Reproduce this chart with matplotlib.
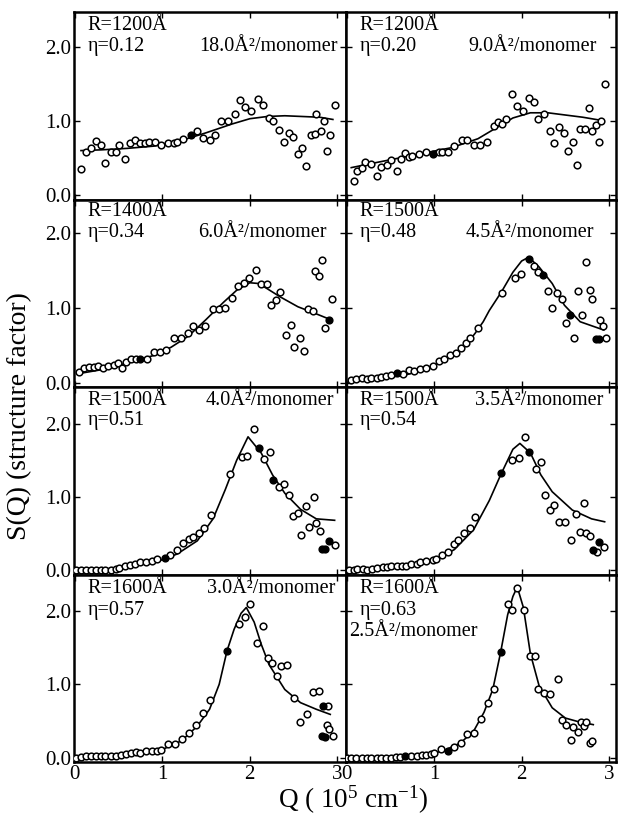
import matplotlib
matplotlib.use("Agg")
import matplotlib.pyplot as plt

plt.rcParams['font.family'] = ['Liberation Serif', 'DejaVu Serif']
plt.rcParams['mathtext.fontset'] = 'custom'
plt.rcParams['mathtext.rm'] = 'Liberation Serif'
plt.rcParams['mathtext.it'] = 'Liberation Serif:italic'

# ---------------- data ----------------
# Panel A : R=1200, eta=0.12
a_x = [0.07,0.13,0.19,0.24,0.30,0.35,0.41,0.47,0.51,0.57,0.63,0.69,0.74,0.80,0.85,0.92,0.99,1.06,1.13,1.17,
       1.24,1.40,1.47,1.54,1.60,1.67,1.75,1.83,1.89,1.95,2.01,2.09,2.15,2.22,2.26,2.33,2.39,2.45,2.49,2.55,
       2.60,2.64,2.70,2.74,2.76,2.81,2.85,2.88,2.92,2.97]
a_y = [0.35,0.58,0.64,0.73,0.68,0.43,0.58,0.58,0.67,0.48,0.70,0.74,0.70,0.70,0.71,0.71,0.67,0.70,0.70,0.71,
       0.75,0.87,0.77,0.74,0.81,1.00,1.00,1.10,1.28,1.19,1.14,1.30,1.22,1.04,1.00,0.88,0.72,0.84,0.79,0.56,
       0.63,0.39,0.81,0.82,1.09,0.86,1.00,0.60,0.81,1.21]
a_fx = [1.33]
a_fy = [0.81]
a_cx = [0.07,0.3,0.6,0.9,1.2,1.5,1.8,2.0,2.2,2.4,2.6,2.8,2.95]
a_cy = [0.60,0.61,0.63,0.66,0.73,0.84,0.96,1.03,1.06,1.07,1.06,1.05,1.02]

# Panel B : R=1200, eta=0.20
b_x = [0.08,0.12,0.17,0.21,0.28,0.35,0.39,0.46,0.51,0.57,0.62,0.66,0.71,0.75,0.82,0.90,1.05,1.09,1.16,1.23,
       1.32,1.38,1.45,1.52,1.60,1.68,1.73,1.77,1.82,1.89,1.95,2.01,2.08,2.14,2.19,2.26,2.32,2.37,2.43,2.49,
       2.53,2.59,2.63,2.67,2.73,2.77,2.80,2.85,2.88,2.91,2.95]
b_y = [0.19,0.32,0.37,0.44,0.42,0.26,0.38,0.40,0.47,0.33,0.49,0.57,0.52,0.53,0.55,0.58,0.58,0.58,0.58,0.66,
       0.74,0.74,0.67,0.67,0.71,0.93,0.98,0.96,1.03,1.36,1.20,1.13,1.31,1.26,1.02,1.09,0.87,0.70,0.92,0.84,
       0.60,0.71,0.41,0.89,0.89,1.17,0.86,0.95,0.72,1.00,1.50]
b_fx = [0.98]
b_fy = [0.56]
b_cx = [0.05,0.3,0.6,0.9,1.2,1.5,1.7,1.9,2.1,2.3,2.5,2.7,2.9]
b_cy = [0.37,0.43,0.50,0.57,0.64,0.76,0.90,1.04,1.11,1.11,1.08,1.05,1.01]

# Panel C : R=1400, eta=0.34
c_x = [0.05,0.10,0.16,0.22,0.26,0.32,0.38,0.45,0.49,0.54,0.58,0.64,0.70,0.82,0.90,0.97,1.04,1.13,1.21,1.29,
       1.35,1.42,1.49,1.58,1.65,1.72,1.80,1.87,1.93,1.99,2.07,2.13,2.20,2.24,2.30,2.35,2.41,2.47,2.51,2.57,
       2.62,2.67,2.72,2.75,2.79,2.83,2.86,2.94]
c_y = [0.15,0.21,0.22,0.22,0.23,0.21,0.23,0.25,0.27,0.21,0.29,0.33,0.32,0.33,0.42,0.42,0.45,0.60,0.60,0.67,
       0.76,0.71,0.77,0.99,0.99,1.00,1.14,1.30,1.34,1.40,1.51,1.32,1.32,1.04,1.11,1.22,0.65,0.78,0.49,0.60,
       0.43,0.99,0.96,1.50,1.43,1.65,0.74,1.13]
c_fx = [0.75,2.90]
c_fy = [0.33,0.85]
c_cx = [0.05,0.3,0.6,0.9,1.1,1.3,1.5,1.7,1.85,2.0,2.1,2.2,2.35,2.55,2.75,2.92]
c_cy = [0.13,0.18,0.27,0.37,0.48,0.63,0.85,1.08,1.24,1.34,1.33,1.26,1.15,1.02,0.93,0.85]

# Panel D : R=1500, eta=0.48
d_x = [0.05,0.11,0.17,0.23,0.28,0.34,0.39,0.45,0.50,0.64,0.71,0.77,0.84,0.91,0.98,1.05,1.11,1.18,1.25,1.31,
       1.36,1.41,1.50,1.78,1.92,1.99,2.14,2.19,2.30,2.35,2.41,2.46,2.51,2.60,2.64,2.69,2.74,2.78,2.81,2.90,
       2.93,2.96]
d_y = [0.05,0.06,0.07,0.06,0.07,0.07,0.08,0.10,0.11,0.13,0.18,0.16,0.19,0.21,0.23,0.30,0.32,0.38,0.41,0.47,
       0.54,0.60,0.74,1.20,1.40,1.46,1.57,1.48,1.23,1.00,1.20,1.12,0.80,0.60,1.23,0.91,1.62,1.24,1.13,0.85,
       0.76,0.60]
d_fx = [0.57,2.08,2.25,2.55,2.85,2.88]
d_fy = [0.14,1.66,1.44,0.91,0.59,0.59]
d_cx = [0.05,0.4,0.7,1.0,1.2,1.35,1.47,1.56,1.63,1.77,1.9,2.0,2.08,2.2,2.35,2.49,2.67,2.94]
d_cy = [0.03,0.06,0.12,0.24,0.36,0.49,0.67,0.82,0.97,1.22,1.48,1.63,1.68,1.55,1.33,1.04,0.82,0.71]

# Panel E : R=1500, eta=0.51
e_x = [0.01,0.07,0.13,0.19,0.24,0.30,0.35,0.41,0.47,0.51,0.57,0.63,0.69,0.74,0.81,0.88,0.94,1.09,1.17,1.24,
       1.31,1.35,1.42,1.48,1.56,1.77,1.91,1.97,2.05,2.16,2.23,2.33,2.39,2.45,2.49,2.55,2.59,2.64,2.68,2.73,
       2.76,2.80,2.97]
e_y = [0.0,0.0,0.0,0.0,0.0,0.0,0.0,0.0,0.01,0.03,0.06,0.07,0.08,0.11,0.11,0.13,0.15,0.21,0.27,0.37,
       0.43,0.45,0.50,0.57,0.75,1.31,1.55,1.56,1.93,1.52,1.61,1.14,1.17,1.02,0.74,0.78,0.48,0.87,0.59,1.00,
       0.64,0.54,0.34]
e_fx = [1.03,2.10,2.27,2.83,2.86,2.91]
e_fy = [0.16,1.67,1.23,0.29,0.29,0.40]
e_cx = [0.01,0.3,0.6,0.95,1.17,1.4,1.58,1.72,1.85,1.98,2.13,2.26,2.4,2.58,2.76,2.97]
e_cy = [0.0,0.01,0.04,0.12,0.22,0.40,0.70,1.10,1.50,1.82,1.60,1.30,1.05,0.83,0.70,0.68]

# Panel F : R=1500, eta=0.54
f_x = [0.02,0.08,0.12,0.18,0.23,0.29,0.35,0.41,0.46,0.51,0.57,0.63,0.68,0.73,0.80,0.84,0.91,0.98,1.02,1.09,
       1.16,1.23,1.27,1.34,1.41,1.47,1.89,1.97,2.04,2.16,2.22,2.27,2.32,2.37,2.43,2.50,2.56,2.62,2.67,2.71,
       2.74,2.78,2.86,2.94]
f_y = [0.0,0.0,0.01,0.01,0.0,0.01,0.03,0.04,0.04,0.05,0.06,0.06,0.06,0.08,0.09,0.11,0.12,0.14,0.15,0.20,
       0.25,0.36,0.41,0.50,0.57,0.73,1.50,1.53,1.82,1.38,1.48,1.03,0.82,0.89,0.65,0.66,0.41,0.77,0.52,0.92,
       0.51,0.46,0.25,0.31]
f_fx = [1.76,2.09,2.82,2.89]
f_fy = [1.32,1.61,0.27,0.38]
f_cx = [0.02,0.4,0.7,1.0,1.23,1.45,1.63,1.76,1.9,1.98,2.1,2.22,2.35,2.58,2.8,2.95]
f_cy = [0.0,0.03,0.06,0.13,0.28,0.55,0.95,1.30,1.65,1.73,1.60,1.30,1.07,0.82,0.70,0.66]

# Panel G : R=1600, eta=0.57
g_x = [0.01,0.07,0.13,0.19,0.24,0.30,0.35,0.41,0.47,0.53,0.58,0.64,0.70,0.75,0.81,0.88,0.94,0.99,1.07,1.15,
       1.23,1.31,1.39,1.47,1.54,1.88,1.95,2.00,2.08,2.15,2.21,2.25,2.31,2.36,2.42,2.50,2.57,2.65,2.72,2.79,
       2.88,2.91,2.95,2.89]
g_y = [0.0,0.01,0.02,0.02,0.02,0.02,0.02,0.02,0.02,0.03,0.05,0.06,0.08,0.06,0.09,0.09,0.09,0.10,0.18,0.18,
       0.26,0.34,0.45,0.61,0.79,1.83,1.92,2.10,1.57,1.80,1.36,1.29,1.11,1.25,1.27,0.82,0.49,0.59,0.90,0.91,
       0.44,0.39,0.30,0.70]
g_fx = [1.74,2.84,2.82,2.86]
g_fy = [1.46,0.71,0.30,0.28]
g_cx = [0.01,0.4,0.7,1.0,1.22,1.4,1.54,1.65,1.74,1.82,1.9,1.96,2.05,2.13,2.22,2.4,2.58,2.76,2.92]
g_cy = [0.0,0.02,0.05,0.11,0.23,0.43,0.66,1.0,1.46,1.75,1.97,2.05,1.85,1.55,1.27,0.93,0.75,0.66,0.59]

# Panel H : R=1600, eta=0.63
h_x = [0.0,0.05,0.11,0.17,0.23,0.28,0.34,0.39,0.45,0.50,0.56,0.61,0.73,0.80,0.86,0.91,0.96,1.00,1.08,1.23,
       1.31,1.38,1.45,1.53,1.61,1.68,1.84,1.89,1.95,2.03,2.10,2.15,2.19,2.26,2.33,2.42,2.46,2.51,2.56,2.59,
       2.64,2.68,2.71,2.74,2.78,2.81]
h_y = [0.0,0.0,0.0,0.0,0.0,0.0,0.0,0.0,0.0,0.0,0.01,0.01,0.02,0.02,0.03,0.04,0.05,0.06,0.12,0.14,
       0.20,0.32,0.34,0.53,0.74,0.93,2.10,2.02,2.32,2.02,1.39,1.39,0.93,0.88,0.87,1.07,0.52,0.45,0.24,0.42,
       0.35,0.49,0.43,0.49,0.20,0.23]
h_fx = [0.67,1.16,1.76]
h_fy = [0.02,0.09,1.44]
h_cx = [0.0,0.5,0.9,1.1,1.3,1.45,1.57,1.67,1.76,1.84,1.9,1.95,2.02,2.1,2.2,2.35,2.5,2.65,2.82]
h_cy = [0.0,0.01,0.04,0.09,0.2,0.36,0.62,0.93,1.44,1.95,2.2,2.33,2.05,1.42,0.98,0.68,0.54,0.49,0.45]

radius_labels = ["R=1200Å", "R=1200Å", "R=1400Å", "R=1500Å", "R=1500Å", "R=1500Å", "R=1600Å", "R=1600Å"]
eta_labels = ["η=0.12", "η=0.20", "η=0.34", "η=0.48", "η=0.51", "η=0.54", "η=0.57", "η=0.63"]
area_labels = ["18.0Å²/monomer", "9.0Å²/monomer", "6.0Å²/monomer", "4.5Å²/monomer",
               "4.0Å²/monomer", "3.5Å²/monomer", "3.0Å²/monomer", "2.5Å²/monomer"]
x_ticks = [0, 1, 2, 3]
y_ticks = [0.0, 1.0, 2.0]
y_tick_labels = ["0.0", "1.0", "2.0"]

panels = [
    (a_x, a_y, a_fx, a_fy, a_cx, a_cy),
    (b_x, b_y, b_fx, b_fy, b_cx, b_cy),
    (c_x, c_y, c_fx, c_fy, c_cx, c_cy),
    (d_x, d_y, d_fx, d_fy, d_cx, d_cy),
    (e_x, e_y, e_fx, e_fy, e_cx, e_cy),
    (f_x, f_y, f_fx, f_fy, f_cx, f_cy),
    (g_x, g_y, g_fx, g_fy, g_cx, g_cy),
    (h_x, h_y, h_fx, h_fy, h_cx, h_cy),
]

# ---------------- layout ----------------
fig = plt.figure(figsize=(6.18, 8.15), dpi=100)
left, mid, right = 74/618, 346/618, 616/618
top, bottom = 1 - 12/815, 1 - 762/815
row_h = (top - bottom) / 4
ylims = [(-0.06, 2.47), (-0.05, 2.45), (-0.06, 2.5), (-0.06, 2.5)]
xlims = [(-0.01, 3.10), (-0.01, 3.08)]

# text positions in axes fraction: (R/eta x, R y, eta y, area x, area y, area ha)
txt_pos = [
    (0.05, 0.93, 0.815, 0.97, 0.815, 'right'),
    (0.05, 0.93, 0.815, 0.93, 0.815, 'right'),
    (0.05, 0.935, 0.825, 0.93, 0.825, 'right'),
    (0.05, 0.935, 0.825, 0.92, 0.825, 'right'),
    (0.05, 0.93, 0.82, 0.955, 0.93, 'right'),
    (0.05, 0.93, 0.82, 0.955, 0.93, 'right'),
    (0.05, 0.925, 0.81, 0.96, 0.925, 'right'),
    (0.05, 0.925, 0.81, 0.01, 0.695, 'left'),
]

fs = 14.5
for i, (px, py, pfx, pfy, pcx, pcy) in enumerate(panels):
    r, c = divmod(i, 2)
    x0 = left if c == 0 else mid
    w = (mid - left) if c == 0 else (right - mid)
    ax = fig.add_axes([x0, top - (r + 1) * row_h, w, row_h])
    ax.plot(pcx, pcy, color='black', lw=1.2, zorder=2)
    ax.plot(px, py, linestyle='none', marker='o', markersize=4.8, markerfacecolor='white',
            markeredgecolor='black', markeredgewidth=1.1, zorder=3)
    ax.plot(pfx, pfy, linestyle='none', marker='o', markersize=4.8, markerfacecolor='black',
            markeredgecolor='black', markeredgewidth=1.1, zorder=3)
    ax.set_xlim(*xlims[c])
    ax.set_ylim(*ylims[r])
    ax.set_xticks(x_ticks)
    ax.set_yticks(y_ticks)
    ax.tick_params(direction='in', length=4, width=1, top=True, right=True,
                   labelsize=15, pad=2)
    if c == 0:
        ax.set_yticklabels(y_tick_labels)
    else:
        ax.tick_params(labelleft=False)
    if r < 3:
        ax.tick_params(labelbottom=False)
    for s in ax.spines.values():
        s.set_linewidth(1.8)
    tx, ry, ey, axx, ay, ha = txt_pos[i]
    ax.text(tx, ry, radius_labels[i], transform=ax.transAxes, fontsize=fs, va='center', ha='left')
    ax.text(tx, ey, eta_labels[i], transform=ax.transAxes, fontsize=fs, va='center', ha='left')
    ax.text(axx, ay, area_labels[i], transform=ax.transAxes, fontsize=fs, va='center', ha=ha)

fig.text(0.032, 0.49, "S(Q) (structure factor)", rotation=90, fontsize=20,
         ha='center', va='center')
fig.text(0.571, 0.018, "Q ( 10$^{5}$ cm$^{-1}$)", fontsize=19.5, ha='center', va='center')

fig.savefig("out.png", dpi=100)
